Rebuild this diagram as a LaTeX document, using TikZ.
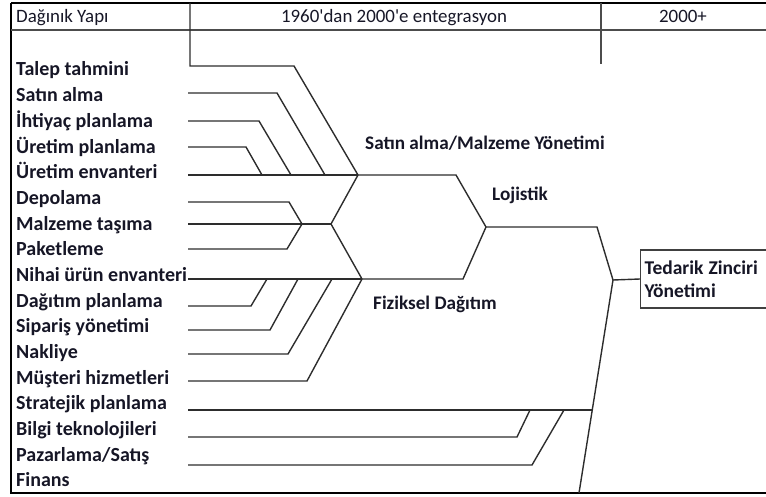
\documentclass[tikz,border=0pt]{standalone}
\usepackage{fontspec}
\setmainfont{Carlito}
\newfontfamily\hdrfont{Carlito}[Ligatures=TeXOff]
\definecolor{ink}{RGB}{22,22,38}
\definecolor{wire}{RGB}{45,45,45}
\begin{document}
\begin{tikzpicture}[x=1bp,y=-1bp,
  lbl/.style={anchor=base west, inner sep=0pt, text=ink,
    font=\bfseries\fontsize{20bp}{24bp}\selectfont},
  grp/.style={lbl, font=\bfseries\fontsize{19.2bp}{23bp}\selectfont},
  hdr/.style={anchor=base, inner sep=0pt, text=ink,
    font=\hdrfont\fontsize{18.9bp}{22bp}\selectfont},
  conn/.style={draw=wire, line width=1.4bp, line join=miter},
  rule/.style={draw=black, line width=2bp},
  thin/.style={draw=black!70, line width=1.2bp}]
\useasboundingbox (0,0) rectangle (766,497);
\clip (0,0) rectangle (766,497);

% table frame and header
\draw[rule] (11,3) -- (780,3);
\draw[rule] (11,3) -- (11,494);
\draw[rule] (11,493) -- (780,493);
\draw[thin] (11,30) -- (780,30);
\draw[thin] (601,3) -- (601,64);
\node[hdr, anchor=base west] (h1) at (16,23) {Dağınık Yapı};
\node[hdr] (h2) at (394,23) {1960'dan 2000'e entegrasyon};
\node[hdr] (h3) at (683,23) {2000+};

% activity labels
\foreach \t [count=\i] in {Talep tahmini, Satın alma, İhtiyaç planlama,
  Üretim planlama, Üretim envanteri, Depolama, Malzeme taşıma, Paketleme,
  Nihai ürün envanteri, Dağıtım planlama, Sipariş yönetimi, Nakliye,
  Müşteri hizmetleri, Stratejik planlama, Bilgi teknolojileri,
  Pazarlama/Satış, Finans}
  \node[lbl] (l\i) at (16,{76+25.67*(\i-1)}) {\t};

% group labels
\node[grp] (satin) at (365,150) {Satın alma/Malzeme Yönetimi};
\node[grp] (loj) at (492,201) {Lojistik};
\node[grp] (fiz) at (373,309) {Fiziksel Dağıtım};
\node[draw=black!75, line width=1.2bp, anchor=west, minimum height=58bp,
  text width=122bp, inner xsep=4bp, align=left, text=ink,
  font=\bfseries\fontsize{19.5bp}{23bp}\selectfont] (scm) at (640,279)
  {Tedarik\kern-1.5bp{} Zinciri\\Yönetimi};

% line starts
\coordinate (s1) at (190,3);
\foreach \y [count=\i from 2] in {93,121,147,175,202,224,249,279,306,330,354,381,410,437,465}
  \coordinate (s\i) at (188,\y);

% junctions
\coordinate (A) at (358,175);
\coordinate (B) at (302,224);
\coordinate (C) at (331,224);
\coordinate (D) at (362,279);
\coordinate (E) at (486,227);
\coordinate (F) at (613,280);
\coordinate (G) at (592,410);
\coordinate (H) at (579,493);

% purchasing branch
\draw[conn] (s1) |- (294,66) -- (A);
\draw[conn] (s2) -- (277,93) -- (325,175);
\draw[conn] (s3) -- (259,121) -- (291,175);
\draw[conn] (s4) -- (246,147) -- (262,175);
\draw[conn] (s5) -- (A);

% warehousing fork
\draw[conn] (s6) -- (289,202) -- (B);
\draw[conn] (s7) -- (B) -- (C);
\draw[conn] (s8) -- (287,249) -- (B);
\draw[conn] (A) -- (C) -- (D);

% distribution branch
\draw[conn] (s9) -- (D);
\draw[conn] (s10) -- (251,306) -- (267,279);
\draw[conn] (s11) -- (270,330) -- (298,279);
\draw[conn] (s12) -- (288,354) -- (332,279);
\draw[conn] (s13) -- (307,381) -- (D);

% logistics
\draw[conn] (A) -- (456,175) -- (E);
\draw[conn] (D) -- (463,279) -- (E);
\draw[conn] (E) -- (597,227) -- (F);
\draw[conn] (F) -- (scm.west);

% supply chain spine
\draw[conn] (H) -- (F);
\draw[conn] (s14) -- (G);
\draw[conn] (s15) -- (517,437) -- (530,410);
\draw[conn] (s16) -- (532,465) -- (564,410);
\end{tikzpicture}
\end{document}
